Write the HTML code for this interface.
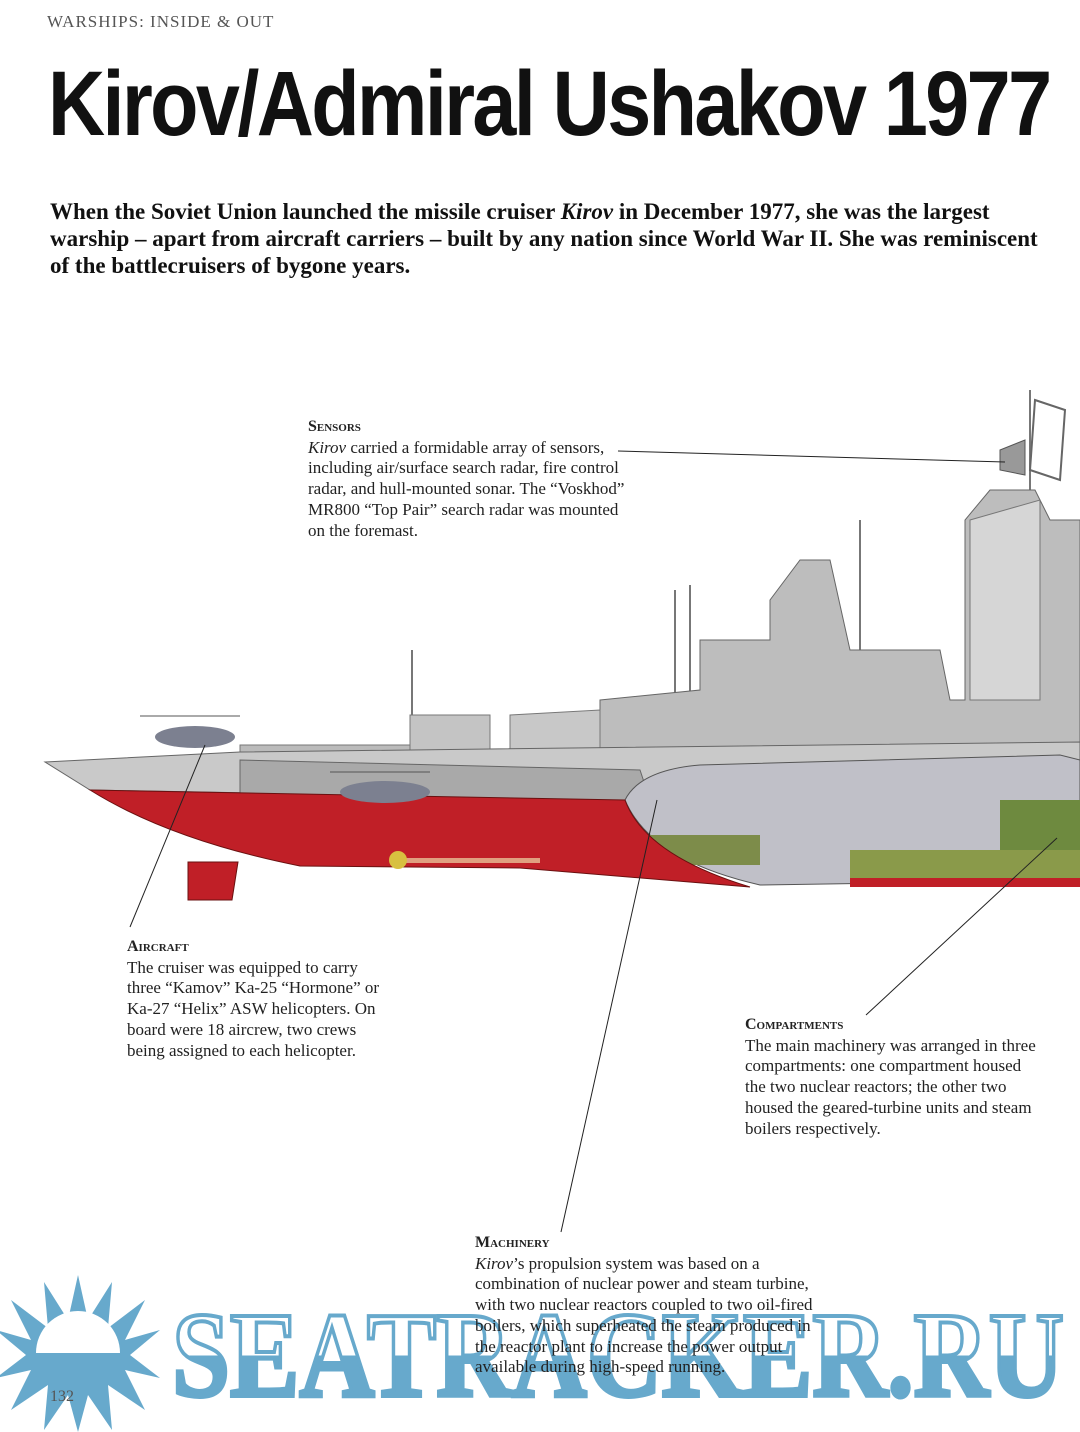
<!DOCTYPE html>
<html><head><meta charset="utf-8"><style>
html,body{margin:0;padding:0;background:#fff;}
body{width:1080px;height:1432px;position:relative;overflow:hidden;font-family:"Liberation Serif",serif;color:#222;}
.a{position:absolute;}
.hdr{left:47px;top:12px;font-size:17px;letter-spacing:1px;color:#555;}
.title{left:48px;top:52px;font-family:"Liberation Sans",sans-serif;font-weight:bold;font-size:92px;letter-spacing:-3px;transform:scaleX(0.86);transform-origin:left top;color:#111;white-space:nowrap;}
.intro{left:50px;top:198px;font-weight:bold;font-size:23px;line-height:27px;color:#111;white-space:nowrap;}
.t{font-size:17px;line-height:20.7px;color:#222;white-space:nowrap;}
.t b{font-variant:small-caps;font-size:16px;}
</style></head><body>
<div class="a hdr">WARSHIPS: INSIDE &amp; OUT</div>
<div class="a title">Kirov/Admiral Ushakov 1977</div>
<div class="a intro">When the Soviet Union launched the missile cruiser <i>Kirov</i> in December 1977, she was the largest<br>warship – apart from aircraft carriers – built by any nation since World War II. She was reminiscent<br>of the battlecruisers of bygone years.</div>

<svg class="a" style="left:0;top:0" width="1080" height="1432">
<g stroke="#777" stroke-width="2">
<line x1="412" y1="650" x2="412" y2="745"/><line x1="675" y1="590" x2="675" y2="700"/><line x1="690" y1="585" x2="690" y2="700"/>
<line x1="860" y1="520" x2="860" y2="690"/><line x1="1030" y1="390" x2="1030" y2="520"/>
</g>
<path d="M600 700 L700 690 L700 640 L770 640 L770 600 L800 560 L830 560 L850 650 L940 650 L950 700 L965 700 L965 520 L990 490 L1035 490 L1050 520 L1080 520 L1080 760 L600 760 Z" fill="#bdbdbd" stroke="#666"/>
<path d="M970 520 L1040 500 L1040 700 L970 700Z" fill="#d6d6d6" stroke="#777"/>
<path d="M1035 400 L1065 410 L1060 480 L1030 470Z" fill="none" stroke="#666" stroke-width="2"/>
<path d="M1000 450 L1025 440 L1025 475 L1000 470Z" fill="#999" stroke="#555"/>
<path d="M510 715 L600 710 L600 760 L510 760Z" fill="#c8c8c8" stroke="#777"/>
<path d="M410 715 L490 715 L490 760 L410 760Z" fill="#c4c4c4" stroke="#777"/>
<path d="M240 745 L410 745 L410 760 L240 760Z" fill="#bbb" stroke="#777"/>
<path d="M45 762 L240 752 L1080 742 L1080 800 L1020 800 L640 800 L90 790 Z" fill="#c9c9c9" stroke="#666"/>
<path d="M240 760 L640 770 L650 800 L240 800Z" fill="#a9a9a9" stroke="#666"/>
<path d="M625 800 Q640 770 700 765 L1060 755 L1080 760 L1080 880 L760 885 Q650 860 625 800Z" fill="#c0c0c8" stroke="#555"/>
<rect x="850" y="850" width="230" height="30" fill="#8a9a4a"/>
<rect x="650" y="835" width="110" height="30" fill="#7d8c4a"/>
<rect x="1000" y="800" width="80" height="50" fill="#6e8a3f"/>
<path d="M90 790 L625 800 Q645 855 750 887 L520 868 L300 866 Q170 840 90 790Z" fill="#c01f27" stroke="#6a1010"/>
<rect x="850" y="878" width="230" height="9" fill="#c01f27"/>
<path d="M188 862 L238 862 L232 900 L188 900Z" fill="#c01f27" stroke="#6a1010"/>
<rect x="405" y="858" width="135" height="5" fill="#e0a080"/>
<circle cx="398" cy="860" r="9" fill="#d8c040"/>
<ellipse cx="195" cy="737" rx="40" ry="11" fill="#7c8090"/>
<line x1="140" y1="716" x2="240" y2="716" stroke="#555"/>
<ellipse cx="385" cy="792" rx="45" ry="11" fill="#7c8090"/>
<line x1="330" y1="772" x2="430" y2="772" stroke="#555"/>
<g stroke="#222" stroke-width="1" fill="none">
<line x1="618" y1="451" x2="1005" y2="462"/>
<line x1="130" y1="927" x2="205" y2="745"/>
<line x1="866" y1="1015" x2="1057" y2="838"/>
<line x1="561" y1="1232" x2="657" y2="800"/>
</g>
<defs><linearGradient id="g" x1="0" y1="0" x2="0" y2="1">
<stop offset="0.5" stop-color="#fff"/><stop offset="0.5" stop-color="#67a9cc"/></linearGradient></defs>
<g fill="#67a9cc">
<polygon points="78,1275 88,1320 112,1282 108,1328 145,1300 125,1340 160,1330 130,1355 160,1378 125,1370 145,1410 108,1385 112,1430 88,1395 78,1432 68,1395 44,1430 48,1385 11,1410 31,1370 -4,1378 26,1355 -4,1330 31,1340 11,1300 48,1328 44,1282 68,1320"/>
</g>
<path d="M36 1353 A42 42 0 0 1 120 1353 Z" fill="#fff"/>
<text x="172" y="1396" font-family="Liberation Serif" font-weight="bold" font-size="122" textLength="892" lengthAdjust="spacingAndGlyphs" fill="url(#g)" stroke="#67a9cc" stroke-width="4" style="fill:url(#g)">SEATRACKER.RU</text>
</svg>

<div class="a t" style="left:308px;top:416px;"><b>Sensors</b><br><i>Kirov</i> carried a formidable array of sensors,<br>including air/surface search radar, fire control<br>radar, and hull-mounted sonar. The “Voskhod”<br>MR800 “Top Pair” search radar was mounted<br>on the foremast.</div>
<div class="a t" style="left:127px;top:936px;"><b>Aircraft</b><br>The cruiser was equipped to carry<br>three “Kamov” Ka-25 “Hormone” or<br>Ka-27 “Helix” ASW helicopters. On<br>board were 18 aircrew, two crews<br>being assigned to each helicopter.</div>
<div class="a t" style="left:745px;top:1014px;"><b>Compartments</b><br>The main machinery was arranged in three<br>compartments: one compartment housed<br>the two nuclear reactors; the other two<br>housed the geared-turbine units and steam<br>boilers respectively.</div>
<div class="a t" style="left:475px;top:1232px;"><b>Machinery</b><br><i>Kirov</i>’s propulsion system was based on a<br>combination of nuclear power and steam turbine,<br>with two nuclear reactors coupled to two oil-fired<br>boilers, which superheated the steam produced in<br>the reactor plant to increase the power output<br>available during high-speed running.</div>
<div class="a" style="left:50px;top:1388px;font-size:16px;color:#555;">132</div>
</body></html>
